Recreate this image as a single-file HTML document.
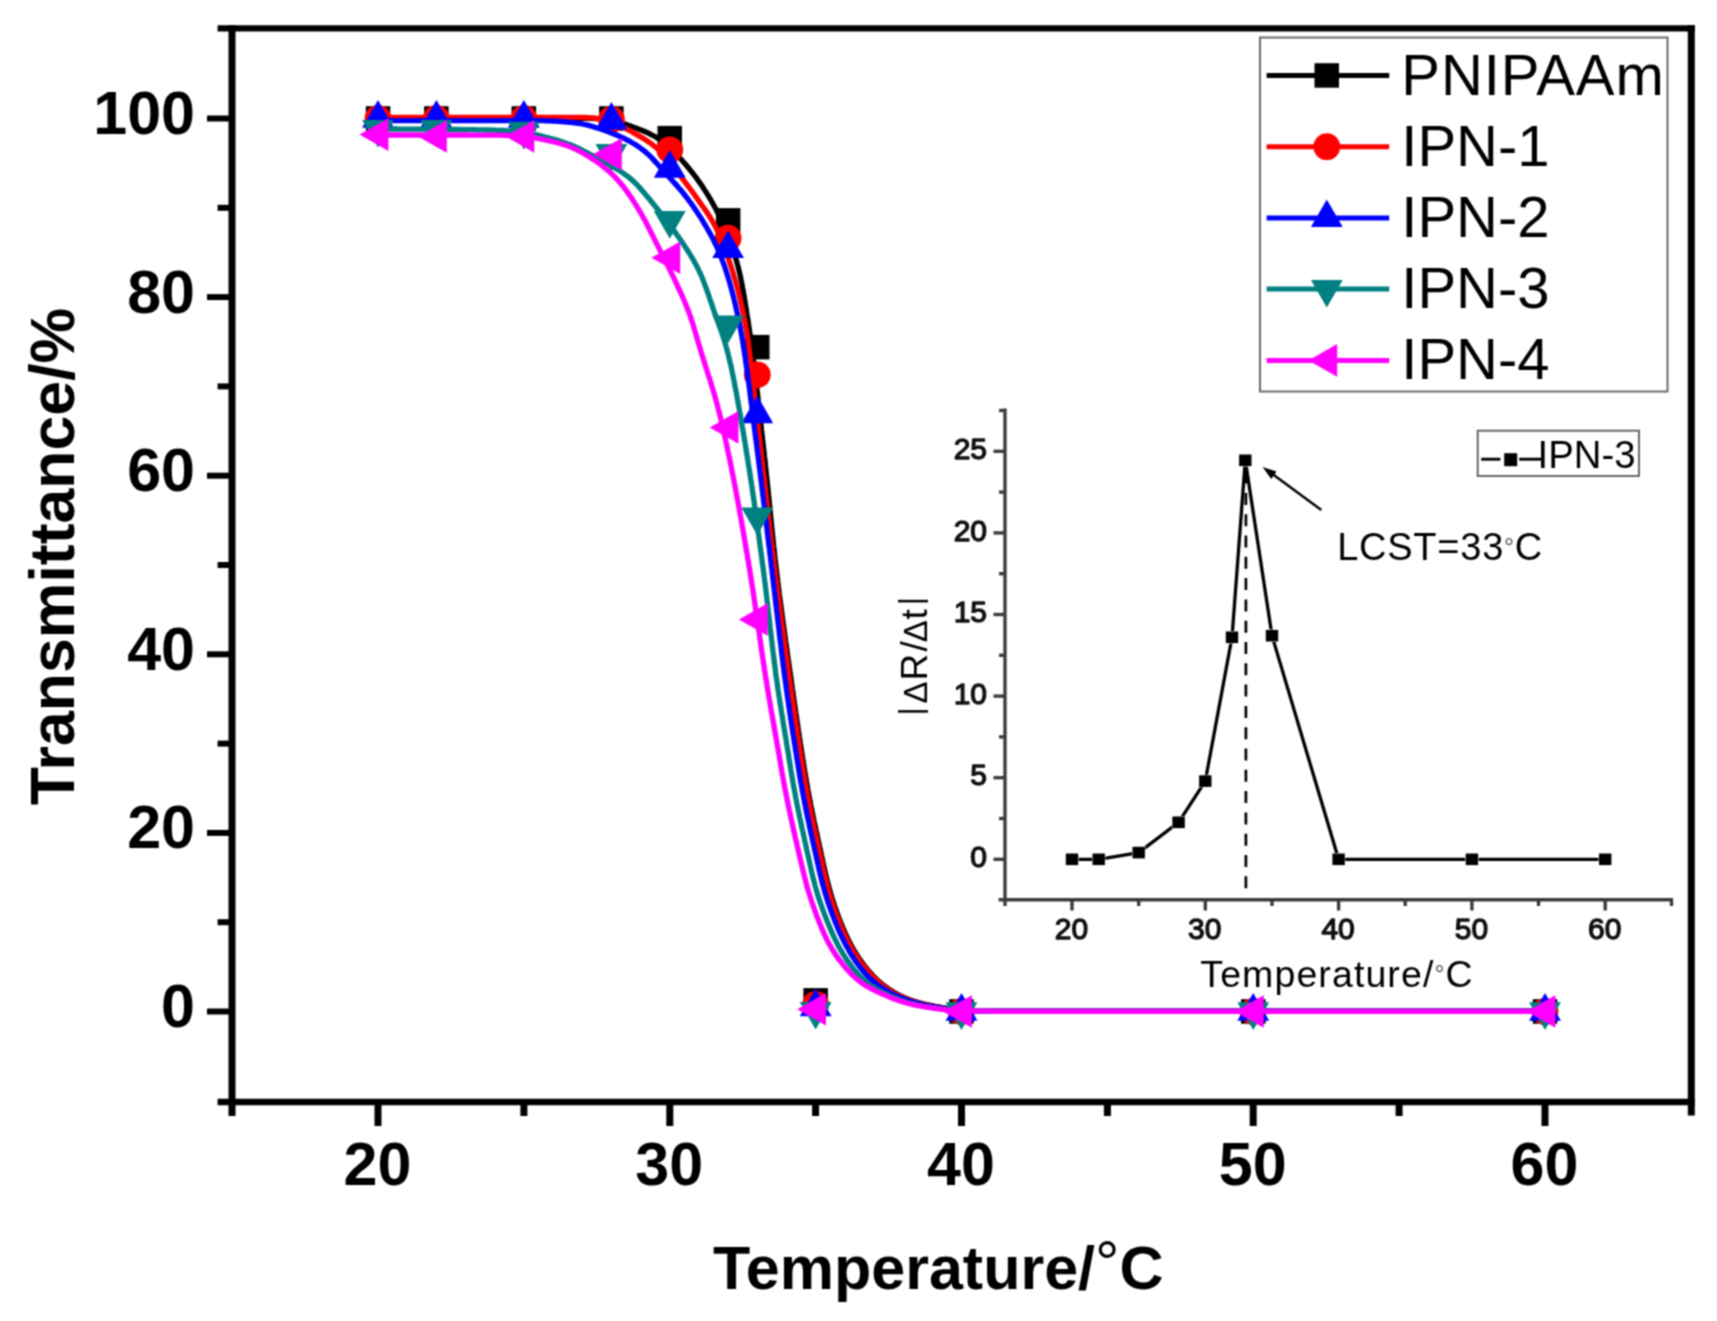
<!DOCTYPE html>
<html lang="en"><head><meta charset="utf-8"><title>Transmittance vs Temperature</title>
<style>html,body{margin:0;padding:0;background:#fff}svg{display:block}</style></head>
<body>
<svg width="1717" height="1321" viewBox="0 0 1717 1321" font-family="'Liberation Sans', sans-serif">
<defs><filter id="soft" color-interpolation-filters="sRGB" filterUnits="userSpaceOnUse" x="0" y="0" width="1717" height="1321"><feConvolveMatrix order="3" kernelMatrix="1 2 1 2 4 2 1 2 1" divisor="16" edgeMode="duplicate" preserveAlpha="false"/></filter></defs>
<g filter="url(#soft)">
<rect width="1717" height="1321" fill="#fff"/>
<g>
<path d="M378.0,118.3 L382.2,118.3 L384.5,118.3 L387.2,118.3 L390.0,118.3 L393.0,118.3 L396.0,118.3 L399.0,118.3 L402.0,118.3 L405.0,118.3 L408.0,118.3 L411.0,118.3 L414.0,118.3 L417.0,118.3 L420.0,118.3 L423.0,118.3 L426.0,118.3 L429.0,118.3 L432.0,118.3 L435.0,118.3 L438.0,118.3 L441.0,118.3 L444.0,118.3 L447.0,118.3 L450.0,118.3 L453.0,118.3 L456.0,118.3 L459.0,118.3 L462.0,118.3 L465.0,118.3 L468.0,118.3 L471.0,118.3 L474.0,118.3 L477.0,118.3 L480.0,118.3 L483.0,118.3 L486.0,118.3 L489.0,118.3 L492.0,118.3 L495.0,118.3 L498.0,118.3 L501.0,118.3 L504.0,118.3 L507.0,118.3 L510.0,118.3 L513.0,118.3 L516.0,118.3 L519.0,118.3 L522.0,118.3 L525.0,118.3 L528.0,118.3 L531.0,118.3 L534.0,118.3 L537.0,118.3 L540.0,118.3 L543.0,118.3 L546.0,118.3 L549.0,118.3 L552.0,118.3 L555.0,118.3 L558.0,118.3 L561.0,118.3 L564.0,118.3 L567.0,118.3 L570.0,118.3 L573.0,118.3 L576.0,118.3 L579.0,118.3 L582.0,118.3 L585.0,118.3 L588.0,118.3 L591.0,118.4 L594.0,118.5 L597.0,118.6 L600.0,118.8 L603.0,119.1 L605.9,119.4 L608.9,119.8 L611.9,120.3 L614.8,120.9 L617.7,121.7 L620.5,122.6 L623.4,123.5 L626.2,124.5 L629.0,125.5 L631.8,126.5 L634.6,127.6 L637.5,128.6 L640.3,129.7 L643.0,130.8 L645.8,132.0 L648.5,133.2 L651.2,134.6 L653.9,136.0 L656.4,137.4 L659.0,139.0 L661.4,140.7 L663.8,142.5 L666.1,144.4 L668.4,146.4 L670.6,148.4 L672.7,150.5 L674.8,152.7 L676.9,154.8 L679.0,157.0 L681.0,159.2 L683.0,161.5 L685.0,163.7 L686.9,166.0 L688.8,168.3 L690.7,170.6 L692.6,173.0 L694.4,175.3 L696.2,177.7 L698.0,180.2 L699.7,182.6 L701.4,185.1 L703.1,187.6 L704.7,190.1 L706.3,192.6 L707.9,195.2 L709.5,197.7 L711.0,200.3 L712.5,202.9 L713.9,205.6 L715.4,208.2 L716.8,210.8 L718.1,213.5 L719.5,216.2 L720.8,218.9 L722.1,221.6 L723.3,224.3 L724.5,227.1 L725.7,229.8 L726.9,232.6 L728.0,235.4 L729.0,238.2 L730.1,241.0 L731.1,243.8 L732.1,246.7 L733.0,249.5 L733.9,252.4 L734.8,255.2 L735.7,258.1 L736.5,261.0 L737.3,263.9 L738.1,266.8 L738.8,269.7 L739.5,272.6 L740.2,275.5 L740.8,278.4 L741.4,281.4 L742.0,284.3 L742.5,287.3 L743.1,290.2 L743.6,293.2 L744.1,296.1 L744.6,299.1 L745.1,302.1 L745.5,305.0 L746.0,308.0 L746.5,310.9 L746.9,313.9 L747.4,316.9 L747.9,319.8 L748.3,322.8 L748.8,325.8 L749.2,328.7 L749.6,331.7 L750.1,334.7 L750.5,337.6 L750.9,340.6 L751.3,343.6 L751.7,346.6 L752.1,349.5 L752.5,352.5 L752.9,355.5 L753.2,358.5 L753.6,361.4 L754.0,364.4 L754.4,367.4 L754.7,370.4 L755.1,373.4 L755.4,376.3 L755.8,379.3 L756.1,382.3 L756.5,385.3 L756.8,388.2 L757.2,391.2 L757.5,394.2 L757.9,397.2 L758.2,400.2 L758.5,403.2 L758.9,406.1 L759.2,409.1 L759.5,412.1 L759.9,415.1 L760.2,418.1 L760.5,421.0 L760.9,424.0 L761.2,427.0 L761.5,430.0 L761.9,433.0 L762.2,435.9 L762.5,438.9 L762.9,441.9 L763.2,444.9 L763.5,447.9 L763.9,450.9 L764.2,453.8 L764.5,456.8 L764.9,459.8 L765.2,462.8 L765.5,465.8 L765.8,468.7 L766.1,471.7 L766.4,474.7 L766.7,477.7 L767.1,480.7 L767.4,483.7 L767.7,486.7 L768.0,489.6 L768.3,492.6 L768.6,495.6 L768.9,498.6 L769.2,501.6 L769.5,504.6 L769.8,507.5 L770.1,510.5 L770.4,513.5 L770.7,516.5 L771.0,519.5 L771.3,522.5 L771.6,525.5 L771.9,528.4 L772.2,531.4 L772.5,534.4 L772.8,537.4 L773.1,540.4 L773.4,543.4 L773.7,546.3 L774.1,549.3 L774.4,552.3 L774.7,555.3 L775.0,558.3 L775.4,561.3 L775.7,564.2 L776.0,567.2 L776.4,570.2 L776.8,573.2 L777.1,576.2 L777.5,579.1 L777.8,582.1 L778.2,585.1 L778.6,588.1 L779.0,591.0 L779.3,594.0 L779.7,597.0 L780.1,600.0 L780.5,602.9 L780.9,605.9 L781.3,608.9 L781.7,611.9 L782.1,614.8 L782.5,617.8 L782.9,620.8 L783.3,623.8 L783.7,626.7 L784.1,629.7 L784.5,632.7 L784.9,635.6 L785.3,638.6 L785.7,641.6 L786.2,644.6 L786.6,647.5 L787.0,650.5 L787.4,653.5 L787.8,656.4 L788.2,659.4 L788.7,662.4 L789.1,665.4 L789.5,668.3 L789.9,671.3 L790.3,674.3 L790.8,677.2 L791.2,680.2 L791.6,683.2 L792.0,686.1 L792.4,689.1 L792.9,692.1 L793.3,695.1 L793.7,698.0 L794.1,701.0 L794.5,704.0 L795.0,706.9 L795.4,709.9 L795.8,712.9 L796.3,715.8 L796.7,718.8 L797.1,721.8 L797.6,724.8 L798.0,727.7 L798.4,730.7 L798.9,733.7 L799.3,736.6 L799.8,739.6 L800.2,742.6 L800.7,745.5 L801.1,748.5 L801.6,751.4 L802.1,754.4 L802.5,757.4 L803.0,760.3 L803.5,763.3 L803.9,766.3 L804.4,769.2 L804.9,772.2 L805.4,775.1 L805.9,778.1 L806.4,781.1 L806.9,784.0 L807.4,787.0 L807.9,789.9 L808.5,792.9 L809.0,795.8 L809.6,798.8 L810.2,801.7 L810.7,804.7 L811.3,807.6 L811.9,810.5 L812.5,813.5 L813.1,816.4 L813.7,819.4 L814.3,822.3 L815.0,825.2 L815.6,828.2 L816.2,831.1 L816.9,834.0 L817.5,837.0 L818.1,839.9 L818.8,842.8 L819.4,845.8 L820.1,848.7 L820.7,851.6 L821.3,854.5 L822.0,857.5 L822.6,860.4 L823.2,863.3 L823.9,866.3 L824.5,869.2 L825.2,872.1 L825.9,875.0 L826.6,878.0 L827.3,880.9 L828.0,883.8 L828.8,886.7 L829.6,889.6 L830.4,892.5 L831.2,895.4 L832.1,898.2 L833.0,901.1 L833.9,903.9 L834.9,906.8 L835.9,909.6 L836.9,912.4 L837.9,915.3 L839.0,918.1 L840.0,920.9 L841.2,923.6 L842.3,926.4 L843.5,929.2 L844.7,931.9 L845.9,934.7 L847.2,937.4 L848.5,940.1 L849.9,942.7 L851.3,945.4 L852.7,948.0 L854.2,950.6 L855.8,953.2 L857.4,955.7 L859.0,958.2 L860.7,960.7 L862.5,963.1 L864.3,965.5 L866.1,967.9 L868.0,970.2 L870.0,972.4 L872.0,974.6 L874.1,976.8 L876.2,978.9 L878.4,980.9 L880.7,982.9 L883.0,984.8 L885.4,986.6 L887.8,988.4 L890.3,990.0 L892.8,991.6 L895.4,993.1 L898.0,994.5 L900.7,995.9 L903.5,997.1 L906.2,998.3 L909.0,999.4 L911.8,1000.4 L914.7,1001.4 L917.5,1002.2 L920.4,1003.1 L923.3,1003.8 L926.2,1004.5 L929.2,1005.1 L932.1,1005.7 L935.0,1006.3 L938.0,1006.8 L941.0,1007.3 L943.9,1007.8 L946.9,1008.3 L949.8,1008.8 L952.8,1009.3 L955.8,1009.7 L958.7,1010.0 L961.7,1010.2 L964.7,1010.4 L967.7,1010.6 L970.7,1010.7 L973.7,1010.8 L976.7,1010.8 L979.7,1010.9 L982.7,1010.9 L985.7,1011.0 L988.7,1011.0 L991.7,1011.1 L994.7,1011.1 L997.7,1011.1 L1000.7,1011.1 L1003.7,1011.1 L1006.7,1011.1 L1009.7,1011.1 L1012.7,1011.1 L1015.7,1011.1 L1018.7,1011.1 L1021.7,1011.1 L1024.7,1011.1 L1027.7,1011.1 L1030.7,1011.1 L1033.7,1011.1 L1036.7,1011.1 L1039.7,1011.1 L1042.7,1011.1 L1045.7,1011.1 L1048.7,1011.1 L1051.7,1011.1 L1054.7,1011.1 L1057.7,1011.1 L1060.7,1011.1 L1063.7,1011.1 L1066.7,1011.1 L1069.7,1011.1 L1072.7,1011.1 L1075.7,1011.1 L1078.7,1011.1 L1081.7,1011.1 L1084.7,1011.1 L1087.7,1011.1 L1090.7,1011.1 L1093.7,1011.1 L1096.7,1011.1 L1099.7,1011.1 L1102.7,1011.1 L1105.7,1011.1 L1108.7,1011.1 L1111.7,1011.1 L1114.7,1011.1 L1117.7,1011.1 L1120.7,1011.1 L1123.7,1011.1 L1126.7,1011.1 L1129.7,1011.1 L1132.7,1011.1 L1135.7,1011.1 L1138.7,1011.1 L1141.7,1011.1 L1144.7,1011.1 L1147.7,1011.1 L1150.7,1011.1 L1153.7,1011.1 L1156.7,1011.1 L1159.7,1011.1 L1162.7,1011.1 L1165.7,1011.1 L1168.7,1011.1 L1171.7,1011.1 L1174.7,1011.1 L1177.7,1011.1 L1180.7,1011.1 L1183.7,1011.1 L1186.7,1011.1 L1189.7,1011.1 L1192.7,1011.1 L1195.7,1011.1 L1198.7,1011.1 L1201.7,1011.1 L1204.7,1011.1 L1207.7,1011.1 L1210.7,1011.1 L1213.7,1011.1 L1216.7,1011.1 L1219.7,1011.1 L1222.7,1011.1 L1225.7,1011.1 L1228.7,1011.1 L1231.7,1011.1 L1234.7,1011.1 L1237.7,1011.1 L1240.7,1011.1 L1243.7,1011.1 L1246.7,1011.1 L1249.7,1011.1 L1252.7,1011.1 L1255.7,1011.1 L1258.7,1011.1 L1261.7,1011.1 L1264.7,1011.1 L1267.7,1011.1 L1270.7,1011.1 L1273.7,1011.1 L1276.7,1011.1 L1279.7,1011.1 L1282.7,1011.1 L1285.7,1011.1 L1288.7,1011.1 L1291.7,1011.1 L1294.7,1011.1 L1297.7,1011.1 L1300.7,1011.1 L1303.7,1011.1 L1306.7,1011.1 L1309.7,1011.1 L1312.7,1011.1 L1315.7,1011.1 L1318.7,1011.1 L1321.7,1011.1 L1324.7,1011.1 L1327.7,1011.1 L1330.7,1011.1 L1333.7,1011.1 L1336.7,1011.1 L1339.7,1011.1 L1342.7,1011.1 L1345.7,1011.1 L1348.7,1011.1 L1351.7,1011.1 L1354.7,1011.1 L1357.7,1011.1 L1360.7,1011.1 L1363.7,1011.1 L1366.7,1011.1 L1369.7,1011.1 L1372.7,1011.1 L1375.7,1011.1 L1378.7,1011.1 L1381.7,1011.1 L1384.7,1011.1 L1387.7,1011.1 L1390.7,1011.1 L1393.7,1011.1 L1396.7,1011.1 L1399.7,1011.1 L1402.7,1011.1 L1405.7,1011.1 L1408.7,1011.1 L1411.7,1011.1 L1414.7,1011.1 L1417.7,1011.1 L1420.7,1011.1 L1423.7,1011.1 L1426.7,1011.1 L1429.7,1011.1 L1432.7,1011.1 L1435.7,1011.1 L1438.7,1011.1 L1441.7,1011.1 L1444.7,1011.1 L1447.7,1011.1 L1450.7,1011.1 L1453.7,1011.1 L1456.7,1011.1 L1459.7,1011.1 L1462.7,1011.1 L1465.7,1011.1 L1468.7,1011.1 L1471.7,1011.1 L1474.7,1011.1 L1477.7,1011.1 L1480.7,1011.1 L1483.7,1011.1 L1486.7,1011.1 L1489.7,1011.1 L1492.7,1011.1 L1495.7,1011.1 L1498.7,1011.1 L1501.7,1011.1 L1504.7,1011.1 L1507.7,1011.1 L1510.7,1011.1 L1513.7,1011.1 L1516.7,1011.1 L1519.7,1011.1 L1522.7,1011.1 L1525.7,1011.1 L1528.7,1011.1 L1531.7,1011.1 L1534.6,1011.1 L1537.3,1011.1 L1539.8,1011.1 L1541.8,1011.1 L1545.0,1011.1" fill="none" stroke="#000" stroke-width="5.3" stroke-linejoin="round"/>
<rect x="365.8" y="106.2" width="24.5" height="24.5" fill="#000"/>
<rect x="424.1" y="106.2" width="24.5" height="24.5" fill="#000"/>
<rect x="511.6" y="106.2" width="24.5" height="24.5" fill="#000"/>
<rect x="599.1" y="106.2" width="24.5" height="24.5" fill="#000"/>
<rect x="657.5" y="125.9" width="24.5" height="24.5" fill="#000"/>
<rect x="715.9" y="208.1" width="24.5" height="24.5" fill="#000"/>
<rect x="745.0" y="334.9" width="24.5" height="24.5" fill="#000"/>
<rect x="803.4" y="988.1" width="24.5" height="24.5" fill="#000"/>
<rect x="949.2" y="999.2" width="24.5" height="24.5" fill="#000"/>
<rect x="1241.0" y="999.2" width="24.5" height="24.5" fill="#000"/>
<rect x="1532.8" y="999.2" width="24.5" height="24.5" fill="#000"/>
</g>
<g>
<path d="M378.0,117.3 L382.2,117.3 L384.5,117.3 L387.2,117.3 L390.0,117.3 L393.0,117.3 L396.0,117.3 L399.0,117.3 L402.0,117.3 L405.0,117.3 L408.0,117.3 L411.0,117.3 L414.0,117.3 L417.0,117.3 L420.0,117.3 L423.0,117.3 L426.0,117.3 L429.0,117.3 L432.0,117.3 L435.0,117.3 L438.0,117.3 L441.0,117.3 L444.0,117.3 L447.0,117.3 L450.0,117.3 L453.0,117.3 L456.0,117.3 L459.0,117.3 L462.0,117.3 L465.0,117.3 L468.0,117.3 L471.0,117.3 L474.0,117.3 L477.0,117.3 L480.0,117.3 L483.0,117.3 L486.0,117.3 L489.0,117.3 L492.0,117.3 L495.0,117.3 L498.0,117.3 L501.0,117.3 L504.0,117.3 L507.0,117.3 L510.0,117.3 L513.0,117.3 L516.0,117.3 L519.0,117.3 L522.0,117.3 L525.0,117.3 L528.0,117.3 L531.0,117.3 L534.0,117.3 L537.0,117.3 L540.0,117.3 L543.0,117.3 L546.0,117.3 L549.0,117.3 L552.0,117.3 L555.0,117.3 L558.0,117.3 L561.0,117.3 L564.0,117.3 L567.0,117.3 L570.0,117.3 L573.0,117.3 L576.0,117.3 L579.0,117.4 L582.0,117.4 L585.0,117.5 L588.0,117.7 L591.0,117.9 L594.0,118.2 L596.9,118.5 L599.9,118.9 L602.9,119.4 L605.8,120.1 L608.6,120.8 L611.5,121.8 L614.2,122.9 L616.9,124.1 L619.6,125.5 L622.3,126.8 L625.0,128.2 L627.6,129.6 L630.3,131.0 L632.9,132.4 L635.5,133.9 L638.1,135.4 L640.7,136.9 L643.3,138.4 L645.8,140.0 L648.3,141.7 L650.8,143.4 L653.2,145.2 L655.5,147.1 L657.8,149.0 L660.0,151.1 L662.1,153.2 L664.1,155.4 L666.1,157.6 L668.0,159.9 L669.9,162.2 L671.8,164.6 L673.6,166.9 L675.5,169.3 L677.3,171.7 L679.1,174.1 L680.9,176.5 L682.7,178.9 L684.5,181.3 L686.3,183.7 L688.1,186.1 L689.9,188.5 L691.7,190.9 L693.5,193.3 L695.2,195.8 L696.9,198.2 L698.7,200.7 L700.4,203.1 L702.1,205.6 L703.9,208.0 L705.6,210.5 L707.3,212.9 L708.9,215.5 L710.5,218.0 L712.0,220.6 L713.5,223.2 L714.9,225.8 L716.3,228.5 L717.6,231.2 L718.8,233.9 L720.0,236.7 L721.2,239.4 L722.3,242.2 L723.4,245.0 L724.5,247.8 L725.5,250.6 L726.6,253.4 L727.6,256.3 L728.6,259.1 L729.5,261.9 L730.5,264.8 L731.4,267.6 L732.3,270.5 L733.2,273.4 L734.0,276.2 L734.9,279.1 L735.7,282.0 L736.5,284.9 L737.3,287.8 L738.0,290.7 L738.8,293.6 L739.5,296.5 L740.2,299.4 L740.8,302.4 L741.5,305.3 L742.1,308.2 L742.8,311.2 L743.4,314.1 L743.9,317.0 L744.5,320.0 L745.1,322.9 L745.6,325.9 L746.1,328.8 L746.6,331.8 L747.1,334.8 L747.6,337.7 L748.0,340.7 L748.4,343.7 L748.8,346.6 L749.2,349.6 L749.6,352.6 L750.0,355.5 L750.4,358.5 L750.8,361.5 L751.1,364.5 L751.5,367.5 L751.8,370.4 L752.2,373.4 L752.5,376.4 L752.9,379.4 L753.2,382.4 L753.6,385.3 L753.9,388.3 L754.2,391.3 L754.5,394.3 L754.9,397.3 L755.2,400.2 L755.5,403.2 L755.9,406.2 L756.2,409.2 L756.5,412.2 L756.8,415.2 L757.2,418.1 L757.5,421.1 L757.8,424.1 L758.2,427.1 L758.5,430.1 L758.8,433.0 L759.2,436.0 L759.5,439.0 L759.8,442.0 L760.2,445.0 L760.5,447.9 L760.9,450.9 L761.2,453.9 L761.6,456.9 L761.9,459.9 L762.3,462.8 L762.6,465.8 L763.0,468.8 L763.3,471.8 L763.7,474.8 L764.0,477.7 L764.4,480.7 L764.7,483.7 L765.1,486.7 L765.4,489.7 L765.7,492.6 L766.1,495.6 L766.4,498.6 L766.8,501.6 L767.1,504.6 L767.5,507.5 L767.8,510.5 L768.1,513.5 L768.5,516.5 L768.8,519.5 L769.2,522.4 L769.5,525.4 L769.9,528.4 L770.2,531.4 L770.6,534.4 L770.9,537.3 L771.3,540.3 L771.6,543.3 L772.0,546.3 L772.3,549.3 L772.7,552.2 L773.1,555.2 L773.4,558.2 L773.8,561.2 L774.2,564.2 L774.5,567.1 L774.9,570.1 L775.3,573.1 L775.6,576.1 L776.0,579.0 L776.4,582.0 L776.8,585.0 L777.2,588.0 L777.6,590.9 L777.9,593.9 L778.3,596.9 L778.7,599.9 L779.1,602.8 L779.5,605.8 L779.9,608.8 L780.3,611.8 L780.7,614.7 L781.1,617.7 L781.5,620.7 L781.9,623.7 L782.3,626.6 L782.7,629.6 L783.1,632.6 L783.5,635.5 L783.9,638.5 L784.3,641.5 L784.7,644.5 L785.1,647.4 L785.5,650.4 L785.9,653.4 L786.3,656.3 L786.8,659.3 L787.2,662.3 L787.6,665.3 L788.0,668.2 L788.4,671.2 L788.8,674.2 L789.3,677.1 L789.7,680.1 L790.1,683.1 L790.5,686.1 L790.9,689.0 L791.4,692.0 L791.8,695.0 L792.2,697.9 L792.6,700.9 L793.1,703.9 L793.5,706.8 L793.9,709.8 L794.4,712.8 L794.8,715.8 L795.2,718.7 L795.7,721.7 L796.1,724.7 L796.6,727.6 L797.0,730.6 L797.4,733.6 L797.9,736.5 L798.4,739.5 L798.8,742.5 L799.3,745.4 L799.7,748.4 L800.2,751.3 L800.7,754.3 L801.1,757.3 L801.6,760.2 L802.1,763.2 L802.5,766.2 L803.0,769.1 L803.5,772.1 L804.0,775.0 L804.5,778.0 L805.0,781.0 L805.5,783.9 L806.0,786.9 L806.5,789.8 L807.1,792.8 L807.6,795.7 L808.2,798.7 L808.7,801.6 L809.3,804.6 L809.9,807.5 L810.5,810.4 L811.1,813.4 L811.7,816.3 L812.3,819.3 L813.0,822.2 L813.6,825.1 L814.2,828.1 L814.9,831.0 L815.5,833.9 L816.2,836.8 L816.8,839.8 L817.4,842.7 L818.1,845.6 L818.7,848.6 L819.4,851.5 L820.0,854.4 L820.6,857.4 L821.3,860.3 L821.9,863.2 L822.6,866.2 L823.2,869.1 L823.9,872.0 L824.6,874.9 L825.2,877.8 L826.0,880.8 L826.7,883.7 L827.4,886.6 L828.2,889.5 L829.0,892.4 L829.9,895.2 L830.7,898.1 L831.6,901.0 L832.6,903.8 L833.5,906.7 L834.5,909.5 L835.5,912.3 L836.6,915.1 L837.6,917.9 L838.7,920.7 L839.8,923.5 L841.0,926.3 L842.1,929.1 L843.3,931.8 L844.6,934.5 L845.8,937.3 L847.2,939.9 L848.5,942.6 L849.9,945.3 L851.4,947.9 L852.9,950.5 L854.4,953.0 L856.0,955.6 L857.7,958.1 L859.4,960.5 L861.1,963.0 L863.0,965.4 L864.8,967.7 L866.7,970.0 L868.7,972.3 L870.7,974.5 L872.8,976.7 L874.9,978.8 L877.1,980.8 L879.3,982.8 L881.7,984.7 L884.0,986.5 L886.5,988.3 L888.9,990.0 L891.5,991.5 L894.1,993.1 L896.7,994.5 L899.4,995.8 L902.1,997.0 L904.9,998.2 L907.6,999.3 L910.5,1000.3 L913.3,1001.3 L916.2,1002.2 L919.0,1003.0 L921.9,1003.8 L924.9,1004.5 L927.8,1005.1 L930.7,1005.7 L933.7,1006.2 L936.6,1006.8 L939.6,1007.3 L942.5,1007.8 L945.5,1008.3 L948.4,1008.8 L951.4,1009.2 L954.4,1009.6 L957.4,1010.0 L960.3,1010.2 L963.3,1010.4 L966.3,1010.6 L969.3,1010.7 L972.3,1010.7 L975.3,1010.8 L978.3,1010.9 L981.3,1010.9 L984.3,1011.0 L987.3,1011.0 L990.3,1011.0 L993.3,1011.1 L996.3,1011.1 L999.3,1011.1 L1002.3,1011.1 L1005.3,1011.1 L1008.3,1011.1 L1011.3,1011.1 L1014.3,1011.1 L1017.3,1011.1 L1020.3,1011.1 L1023.3,1011.1 L1026.3,1011.1 L1029.3,1011.1 L1032.3,1011.1 L1035.3,1011.1 L1038.3,1011.1 L1041.3,1011.1 L1044.3,1011.1 L1047.3,1011.1 L1050.3,1011.1 L1053.3,1011.1 L1056.3,1011.1 L1059.3,1011.1 L1062.3,1011.1 L1065.3,1011.1 L1068.3,1011.1 L1071.3,1011.1 L1074.3,1011.1 L1077.3,1011.1 L1080.3,1011.1 L1083.3,1011.1 L1086.3,1011.1 L1089.3,1011.1 L1092.3,1011.1 L1095.3,1011.1 L1098.3,1011.1 L1101.3,1011.1 L1104.3,1011.1 L1107.3,1011.1 L1110.3,1011.1 L1113.3,1011.1 L1116.3,1011.1 L1119.3,1011.1 L1122.3,1011.1 L1125.3,1011.1 L1128.3,1011.1 L1131.3,1011.1 L1134.3,1011.1 L1137.3,1011.1 L1140.3,1011.1 L1143.3,1011.1 L1146.3,1011.1 L1149.3,1011.1 L1152.3,1011.1 L1155.3,1011.1 L1158.3,1011.1 L1161.3,1011.1 L1164.3,1011.1 L1167.3,1011.1 L1170.3,1011.1 L1173.3,1011.1 L1176.3,1011.1 L1179.3,1011.1 L1182.3,1011.1 L1185.3,1011.1 L1188.3,1011.1 L1191.3,1011.1 L1194.3,1011.1 L1197.3,1011.1 L1200.3,1011.1 L1203.3,1011.1 L1206.3,1011.1 L1209.3,1011.1 L1212.3,1011.1 L1215.3,1011.1 L1218.3,1011.1 L1221.3,1011.1 L1224.3,1011.1 L1227.3,1011.1 L1230.3,1011.1 L1233.3,1011.1 L1236.3,1011.1 L1239.3,1011.1 L1242.3,1011.1 L1245.3,1011.1 L1248.3,1011.1 L1251.3,1011.1 L1254.3,1011.1 L1257.3,1011.1 L1260.3,1011.1 L1263.3,1011.1 L1266.3,1011.1 L1269.3,1011.1 L1272.3,1011.1 L1275.3,1011.1 L1278.3,1011.1 L1281.3,1011.1 L1284.3,1011.1 L1287.3,1011.1 L1290.3,1011.1 L1293.3,1011.1 L1296.3,1011.1 L1299.3,1011.1 L1302.3,1011.1 L1305.3,1011.1 L1308.3,1011.1 L1311.3,1011.1 L1314.3,1011.1 L1317.3,1011.1 L1320.3,1011.1 L1323.3,1011.1 L1326.3,1011.1 L1329.3,1011.1 L1332.3,1011.1 L1335.3,1011.1 L1338.3,1011.1 L1341.3,1011.1 L1344.3,1011.1 L1347.3,1011.1 L1350.3,1011.1 L1353.3,1011.1 L1356.3,1011.1 L1359.3,1011.1 L1362.3,1011.1 L1365.3,1011.1 L1368.3,1011.1 L1371.3,1011.1 L1374.3,1011.1 L1377.3,1011.1 L1380.3,1011.1 L1383.3,1011.1 L1386.3,1011.1 L1389.3,1011.1 L1392.3,1011.1 L1395.3,1011.1 L1398.3,1011.1 L1401.3,1011.1 L1404.3,1011.1 L1407.3,1011.1 L1410.3,1011.1 L1413.3,1011.1 L1416.3,1011.1 L1419.3,1011.1 L1422.3,1011.1 L1425.3,1011.1 L1428.3,1011.1 L1431.3,1011.1 L1434.3,1011.1 L1437.3,1011.1 L1440.3,1011.1 L1443.3,1011.1 L1446.3,1011.1 L1449.3,1011.1 L1452.3,1011.1 L1455.3,1011.1 L1458.3,1011.1 L1461.3,1011.1 L1464.3,1011.1 L1467.3,1011.1 L1470.3,1011.1 L1473.3,1011.1 L1476.3,1011.1 L1479.3,1011.1 L1482.3,1011.1 L1485.3,1011.1 L1488.3,1011.1 L1491.3,1011.1 L1494.3,1011.1 L1497.3,1011.1 L1500.3,1011.1 L1503.3,1011.1 L1506.3,1011.1 L1509.3,1011.1 L1512.3,1011.1 L1515.3,1011.1 L1518.3,1011.1 L1521.3,1011.1 L1524.3,1011.1 L1527.3,1011.1 L1530.3,1011.1 L1533.2,1011.1 L1536.1,1011.1 L1538.6,1011.1 L1540.8,1011.1 L1545.0,1011.1" fill="none" stroke="#f00" stroke-width="5.3" stroke-linejoin="round"/>
<circle cx="378.0" cy="118.5" r="13.4" fill="#f00"/>
<circle cx="436.4" cy="118.5" r="13.4" fill="#f00"/>
<circle cx="523.9" cy="118.5" r="13.4" fill="#f00"/>
<circle cx="611.4" cy="119.4" r="13.4" fill="#f00"/>
<circle cx="669.8" cy="149.8" r="13.4" fill="#f00"/>
<circle cx="728.1" cy="238.2" r="13.4" fill="#f00"/>
<circle cx="757.3" cy="374.8" r="13.4" fill="#f00"/>
<circle cx="815.6" cy="1004.4" r="13.4" fill="#f00"/>
<circle cx="961.5" cy="1011.5" r="13.4" fill="#f00"/>
<circle cx="1253.2" cy="1011.5" r="13.4" fill="#f00"/>
<circle cx="1545.0" cy="1011.5" r="13.4" fill="#f00"/>
</g>
<g>
<path d="M378.0,120.7 L382.2,120.7 L384.5,120.7 L387.2,120.7 L390.0,120.7 L393.0,120.7 L396.0,120.7 L399.0,120.7 L402.0,120.7 L405.0,120.7 L408.0,120.7 L411.0,120.7 L414.0,120.7 L417.0,120.7 L420.0,120.7 L423.0,120.7 L426.0,120.7 L429.0,120.7 L432.0,120.7 L435.0,120.7 L438.0,120.7 L441.0,120.7 L444.0,120.7 L447.0,120.7 L450.0,120.7 L453.0,120.7 L456.0,120.7 L459.0,120.7 L462.0,120.7 L465.0,120.7 L468.0,120.7 L471.0,120.7 L474.0,120.7 L477.0,120.7 L480.0,120.7 L483.0,120.7 L486.0,120.7 L489.0,120.7 L492.0,120.7 L495.0,120.7 L498.0,120.7 L501.0,120.7 L504.0,120.7 L507.0,120.7 L510.0,120.7 L513.0,120.7 L516.0,120.7 L519.0,120.7 L522.0,120.7 L525.0,120.7 L528.0,120.7 L531.0,120.7 L534.0,120.7 L537.0,120.7 L540.0,120.7 L543.0,120.7 L546.0,120.8 L549.0,120.9 L552.0,121.0 L555.0,121.1 L558.0,121.3 L561.0,121.5 L564.0,121.8 L567.0,122.0 L569.9,122.3 L572.9,122.6 L575.9,123.0 L578.9,123.4 L581.8,123.9 L584.8,124.5 L587.7,125.2 L590.6,125.9 L593.4,126.8 L596.3,127.7 L599.1,128.6 L602.0,129.6 L604.8,130.6 L607.6,131.6 L610.4,132.6 L613.2,133.7 L616.0,134.8 L618.8,136.0 L621.5,137.2 L624.2,138.5 L626.9,139.8 L629.6,141.2 L632.2,142.7 L634.8,144.2 L637.3,145.8 L639.7,147.5 L642.1,149.3 L644.5,151.2 L646.8,153.1 L649.0,155.1 L651.1,157.2 L653.2,159.4 L655.2,161.6 L657.2,163.8 L659.2,166.1 L661.2,168.4 L663.1,170.6 L665.1,172.8 L667.2,175.1 L669.2,177.3 L671.2,179.5 L673.3,181.7 L675.3,183.9 L677.3,186.1 L679.3,188.4 L681.2,190.6 L683.1,193.0 L685.0,195.3 L686.8,197.7 L688.6,200.1 L690.4,202.5 L692.2,204.9 L693.9,207.4 L695.6,209.9 L697.2,212.4 L698.9,214.9 L700.5,217.4 L702.1,219.9 L703.6,222.5 L705.2,225.1 L706.7,227.6 L708.2,230.2 L709.7,232.9 L711.1,235.5 L712.5,238.1 L713.9,240.8 L715.2,243.5 L716.5,246.2 L717.7,249.0 L718.9,251.7 L720.1,254.5 L721.2,257.3 L722.2,260.1 L723.3,262.9 L724.3,265.7 L725.3,268.5 L726.2,271.4 L727.1,274.2 L728.0,277.1 L728.9,280.0 L729.7,282.9 L730.5,285.7 L731.3,288.6 L732.1,291.5 L732.8,294.4 L733.6,297.3 L734.3,300.3 L735.0,303.2 L735.7,306.1 L736.3,309.0 L737.0,311.9 L737.6,314.9 L738.3,317.8 L738.9,320.8 L739.5,323.7 L740.0,326.6 L740.6,329.6 L741.1,332.5 L741.7,335.5 L742.2,338.4 L742.7,341.4 L743.2,344.4 L743.6,347.3 L744.1,350.3 L744.5,353.3 L745.0,356.2 L745.4,359.2 L745.8,362.2 L746.3,365.1 L746.7,368.1 L747.1,371.1 L747.5,374.0 L747.9,377.0 L748.3,380.0 L748.7,383.0 L749.1,385.9 L749.5,388.9 L749.9,391.9 L750.2,394.9 L750.6,397.8 L751.0,400.8 L751.4,403.8 L751.8,406.8 L752.1,409.7 L752.5,412.7 L752.9,415.7 L753.3,418.7 L753.6,421.7 L754.0,424.6 L754.4,427.6 L754.8,430.6 L755.1,433.6 L755.5,436.5 L755.9,439.5 L756.3,442.5 L756.7,445.5 L757.0,448.4 L757.4,451.4 L757.8,454.4 L758.2,457.4 L758.6,460.3 L758.9,463.3 L759.3,466.3 L759.7,469.3 L760.1,472.2 L760.4,475.2 L760.8,478.2 L761.2,481.2 L761.6,484.2 L761.9,487.1 L762.3,490.1 L762.6,493.1 L763.0,496.1 L763.4,499.0 L763.7,502.0 L764.1,505.0 L764.5,508.0 L764.8,511.0 L765.2,513.9 L765.5,516.9 L765.9,519.9 L766.2,522.9 L766.6,525.8 L767.0,528.8 L767.3,531.8 L767.7,534.8 L768.0,537.8 L768.4,540.7 L768.7,543.7 L769.1,546.7 L769.5,549.7 L769.8,552.7 L770.2,555.6 L770.5,558.6 L770.9,561.6 L771.2,564.6 L771.6,567.5 L772.0,570.5 L772.3,573.5 L772.7,576.5 L773.0,579.5 L773.4,582.4 L773.7,585.4 L774.1,588.4 L774.4,591.4 L774.8,594.4 L775.1,597.3 L775.5,600.3 L775.8,603.3 L776.2,606.3 L776.5,609.3 L776.9,612.2 L777.2,615.2 L777.6,618.2 L777.9,621.2 L778.3,624.2 L778.6,627.1 L779.0,630.1 L779.3,633.1 L779.7,636.1 L780.0,639.1 L780.4,642.0 L780.8,645.0 L781.1,648.0 L781.5,651.0 L781.8,653.9 L782.2,656.9 L782.6,659.9 L782.9,662.9 L783.3,665.9 L783.7,668.8 L784.1,671.8 L784.5,674.8 L784.9,677.8 L785.3,680.7 L785.7,683.7 L786.1,686.7 L786.5,689.6 L786.9,692.6 L787.3,695.6 L787.8,698.6 L788.2,701.5 L788.6,704.5 L789.1,707.5 L789.5,710.4 L789.9,713.4 L790.4,716.4 L790.8,719.3 L791.3,722.3 L791.7,725.3 L792.2,728.2 L792.6,731.2 L793.1,734.2 L793.6,737.1 L794.0,740.1 L794.5,743.0 L795.0,746.0 L795.4,749.0 L795.9,751.9 L796.4,754.9 L796.8,757.9 L797.3,760.8 L797.8,763.8 L798.3,766.7 L798.8,769.7 L799.2,772.7 L799.7,775.6 L800.2,778.6 L800.7,781.5 L801.3,784.5 L801.8,787.4 L802.3,790.4 L802.9,793.3 L803.4,796.3 L804.0,799.2 L804.6,802.2 L805.1,805.1 L805.7,808.1 L806.3,811.0 L806.9,814.0 L807.5,816.9 L808.2,819.8 L808.8,822.8 L809.4,825.7 L810.0,828.6 L810.7,831.6 L811.3,834.5 L812.0,837.4 L812.6,840.3 L813.3,843.3 L813.9,846.2 L814.6,849.1 L815.2,852.1 L815.9,855.0 L816.5,857.9 L817.2,860.9 L817.8,863.8 L818.5,866.7 L819.1,869.6 L819.8,872.6 L820.5,875.5 L821.2,878.4 L821.9,881.3 L822.7,884.2 L823.5,887.1 L824.3,890.0 L825.1,892.9 L826.0,895.7 L826.9,898.6 L827.8,901.5 L828.7,904.3 L829.7,907.1 L830.7,910.0 L831.8,912.8 L832.8,915.6 L833.9,918.4 L835.0,921.2 L836.1,924.0 L837.3,926.7 L838.4,929.5 L839.6,932.2 L840.9,935.0 L842.2,937.7 L843.5,940.4 L844.8,943.0 L846.2,945.7 L847.7,948.3 L849.2,950.9 L850.7,953.5 L852.2,956.1 L853.9,958.6 L855.5,961.1 L857.3,963.5 L859.1,965.9 L860.9,968.3 L862.8,970.6 L864.8,972.9 L866.8,975.1 L868.8,977.3 L871.0,979.3 L873.2,981.3 L875.5,983.3 L877.9,985.1 L880.3,986.8 L882.8,988.5 L885.3,990.1 L887.9,991.6 L890.6,993.0 L893.2,994.3 L896.0,995.6 L898.7,996.8 L901.5,998.0 L904.2,999.1 L907.1,1000.1 L909.9,1001.1 L912.7,1002.0 L915.6,1002.9 L918.5,1003.6 L921.4,1004.3 L924.4,1005.0 L927.3,1005.6 L930.2,1006.1 L933.2,1006.7 L936.2,1007.2 L939.1,1007.7 L942.1,1008.1 L945.0,1008.6 L948.0,1009.1 L951.0,1009.5 L954.0,1009.8 L956.9,1010.1 L959.9,1010.3 L962.9,1010.5 L965.9,1010.6 L968.9,1010.7 L971.9,1010.7 L974.9,1010.8 L977.9,1010.9 L980.9,1010.9 L983.9,1011.0 L986.9,1011.0 L989.9,1011.0 L992.9,1011.1 L995.9,1011.1 L998.9,1011.1 L1001.9,1011.1 L1004.9,1011.1 L1007.9,1011.1 L1010.9,1011.1 L1013.9,1011.1 L1016.9,1011.1 L1019.9,1011.1 L1022.9,1011.1 L1025.9,1011.1 L1028.9,1011.1 L1031.9,1011.1 L1034.9,1011.1 L1037.9,1011.1 L1040.9,1011.1 L1043.9,1011.1 L1046.9,1011.1 L1049.9,1011.1 L1052.9,1011.1 L1055.9,1011.1 L1058.9,1011.1 L1061.9,1011.1 L1064.9,1011.1 L1067.9,1011.1 L1070.9,1011.1 L1073.9,1011.1 L1076.9,1011.1 L1079.9,1011.1 L1082.9,1011.1 L1085.9,1011.1 L1088.9,1011.1 L1091.9,1011.1 L1094.9,1011.1 L1097.9,1011.1 L1100.9,1011.1 L1103.9,1011.1 L1106.9,1011.1 L1109.9,1011.1 L1112.9,1011.1 L1115.9,1011.1 L1118.9,1011.1 L1121.9,1011.1 L1124.9,1011.1 L1127.9,1011.1 L1130.9,1011.1 L1133.9,1011.1 L1136.9,1011.1 L1139.9,1011.1 L1142.9,1011.1 L1145.9,1011.1 L1148.9,1011.1 L1151.9,1011.1 L1154.9,1011.1 L1157.9,1011.1 L1160.9,1011.1 L1163.9,1011.1 L1166.9,1011.1 L1169.9,1011.1 L1172.9,1011.1 L1175.9,1011.1 L1178.9,1011.1 L1181.9,1011.1 L1184.9,1011.1 L1187.9,1011.1 L1190.9,1011.1 L1193.9,1011.1 L1196.9,1011.1 L1199.9,1011.1 L1202.9,1011.1 L1205.9,1011.1 L1208.9,1011.1 L1211.9,1011.1 L1214.9,1011.1 L1217.9,1011.1 L1220.9,1011.1 L1223.9,1011.1 L1226.9,1011.1 L1229.9,1011.1 L1232.9,1011.1 L1235.9,1011.1 L1238.9,1011.1 L1241.9,1011.1 L1244.9,1011.1 L1247.9,1011.1 L1250.9,1011.1 L1253.9,1011.1 L1256.9,1011.1 L1259.9,1011.1 L1262.9,1011.1 L1265.9,1011.1 L1268.9,1011.1 L1271.9,1011.1 L1274.9,1011.1 L1277.9,1011.1 L1280.9,1011.1 L1283.9,1011.1 L1286.9,1011.1 L1289.9,1011.1 L1292.9,1011.1 L1295.9,1011.1 L1298.9,1011.1 L1301.9,1011.1 L1304.9,1011.1 L1307.9,1011.1 L1310.9,1011.1 L1313.9,1011.1 L1316.9,1011.1 L1319.9,1011.1 L1322.9,1011.1 L1325.9,1011.1 L1328.9,1011.1 L1331.9,1011.1 L1334.9,1011.1 L1337.9,1011.1 L1340.9,1011.1 L1343.9,1011.1 L1346.9,1011.1 L1349.9,1011.1 L1352.9,1011.1 L1355.9,1011.1 L1358.9,1011.1 L1361.9,1011.1 L1364.9,1011.1 L1367.9,1011.1 L1370.9,1011.1 L1373.9,1011.1 L1376.9,1011.1 L1379.9,1011.1 L1382.9,1011.1 L1385.9,1011.1 L1388.9,1011.1 L1391.9,1011.1 L1394.9,1011.1 L1397.9,1011.1 L1400.9,1011.1 L1403.9,1011.1 L1406.9,1011.1 L1409.9,1011.1 L1412.9,1011.1 L1415.9,1011.1 L1418.9,1011.1 L1421.9,1011.1 L1424.9,1011.1 L1427.9,1011.1 L1430.9,1011.1 L1433.9,1011.1 L1436.9,1011.1 L1439.9,1011.1 L1442.9,1011.1 L1445.9,1011.1 L1448.9,1011.1 L1451.9,1011.1 L1454.9,1011.1 L1457.9,1011.1 L1460.9,1011.1 L1463.9,1011.1 L1466.9,1011.1 L1469.9,1011.1 L1472.9,1011.1 L1475.9,1011.1 L1478.9,1011.1 L1481.9,1011.1 L1484.9,1011.1 L1487.9,1011.1 L1490.9,1011.1 L1493.9,1011.1 L1496.9,1011.1 L1499.9,1011.1 L1502.9,1011.1 L1505.9,1011.1 L1508.9,1011.1 L1511.9,1011.1 L1514.9,1011.1 L1517.9,1011.1 L1520.9,1011.1 L1523.9,1011.1 L1526.9,1011.1 L1529.9,1011.1 L1532.9,1011.1 L1535.7,1011.1 L1538.4,1011.1 L1540.7,1011.1 L1545.0,1011.1 L1545.0,1011.1" fill="none" stroke="#00f" stroke-width="5.3" stroke-linejoin="round"/>
<polygon points="378.0,100.1 362.1,127.7 393.9,127.7" fill="#00f"/>
<polygon points="436.4,100.1 420.4,127.7 452.3,127.7" fill="#00f"/>
<polygon points="523.9,100.1 507.9,127.7 539.8,127.7" fill="#00f"/>
<polygon points="611.4,101.9 595.5,129.5 627.3,129.5" fill="#00f"/>
<polygon points="669.8,150.1 653.8,177.7 685.7,177.7" fill="#00f"/>
<polygon points="728.1,230.5 712.2,258.1 744.0,258.1" fill="#00f"/>
<polygon points="757.3,395.7 741.3,423.3 773.2,423.3" fill="#00f"/>
<polygon points="815.6,988.6 799.7,1016.2 831.6,1016.2" fill="#00f"/>
<polygon points="961.5,993.1 945.6,1020.7 977.4,1020.7" fill="#00f"/>
<polygon points="1253.2,993.1 1237.3,1020.7 1269.2,1020.7" fill="#00f"/>
<polygon points="1545.0,993.1 1529.1,1020.7 1560.9,1020.7" fill="#00f"/>
</g>
<g>
<path d="M378.0,129.0 L382.2,129.0 L384.5,129.0 L387.2,129.0 L390.0,129.0 L393.0,129.0 L396.0,129.0 L399.0,129.1 L402.0,129.1 L405.0,129.1 L408.0,129.1 L411.0,129.1 L414.0,129.1 L417.0,129.2 L420.0,129.2 L423.0,129.2 L426.0,129.2 L429.0,129.2 L432.0,129.3 L435.0,129.3 L438.0,129.3 L441.0,129.3 L444.0,129.4 L447.0,129.4 L450.0,129.4 L453.0,129.5 L456.0,129.5 L459.0,129.5 L462.0,129.6 L465.0,129.6 L468.0,129.6 L471.0,129.7 L474.0,129.7 L477.0,129.8 L480.0,129.8 L483.0,129.9 L486.0,130.0 L489.0,130.0 L492.0,130.1 L495.0,130.2 L498.0,130.3 L501.0,130.4 L504.0,130.5 L507.0,130.7 L510.0,130.8 L513.0,131.0 L516.0,131.3 L518.9,131.6 L521.9,131.9 L524.9,132.4 L527.8,132.9 L530.8,133.5 L533.7,134.1 L536.6,134.8 L539.5,135.5 L542.4,136.2 L545.3,137.0 L548.2,137.7 L551.1,138.5 L554.0,139.3 L556.9,140.1 L559.8,141.0 L562.6,141.9 L565.5,142.9 L568.3,143.9 L571.1,145.0 L573.8,146.2 L576.6,147.5 L579.3,148.7 L581.9,150.1 L584.6,151.5 L587.3,152.8 L589.9,154.3 L592.6,155.7 L595.2,157.1 L597.9,158.5 L600.5,159.9 L603.1,161.3 L605.8,162.7 L608.4,164.2 L611.0,165.6 L613.6,167.1 L616.2,168.7 L618.8,170.2 L621.3,171.9 L623.8,173.6 L626.2,175.3 L628.6,177.1 L630.9,179.0 L633.1,181.0 L635.3,183.1 L637.4,185.2 L639.4,187.4 L641.4,189.6 L643.4,191.9 L645.3,194.2 L647.2,196.5 L649.1,198.8 L651.0,201.2 L652.9,203.5 L654.8,205.8 L656.7,208.2 L658.5,210.5 L660.4,212.8 L662.3,215.2 L664.1,217.5 L666.0,219.9 L667.8,222.3 L669.6,224.7 L671.4,227.1 L673.2,229.5 L675.0,231.9 L676.7,234.4 L678.4,236.8 L680.1,239.3 L681.8,241.8 L683.5,244.3 L685.1,246.8 L686.8,249.3 L688.4,251.8 L690.0,254.4 L691.5,256.9 L693.1,259.5 L694.5,262.1 L696.0,264.7 L697.4,267.4 L698.7,270.1 L700.0,272.8 L701.2,275.5 L702.4,278.3 L703.5,281.1 L704.5,283.9 L705.6,286.7 L706.6,289.5 L707.6,292.3 L708.6,295.2 L709.5,298.0 L710.5,300.9 L711.5,303.7 L712.5,306.5 L713.4,309.4 L714.4,312.2 L715.5,315.0 L716.5,317.8 L717.5,320.7 L718.5,323.5 L719.5,326.3 L720.5,329.1 L721.5,332.0 L722.5,334.8 L723.4,337.7 L724.3,340.5 L725.2,343.4 L726.0,346.3 L726.8,349.2 L727.6,352.1 L728.3,355.0 L729.0,357.9 L729.7,360.8 L730.4,363.7 L731.1,366.7 L731.7,369.6 L732.3,372.5 L732.9,375.5 L733.5,378.4 L734.1,381.3 L734.7,384.3 L735.2,387.2 L735.8,390.2 L736.4,393.1 L736.9,396.1 L737.4,399.0 L738.0,402.0 L738.5,404.9 L739.0,407.9 L739.5,410.8 L740.1,413.8 L740.6,416.8 L741.1,419.7 L741.6,422.7 L742.1,425.6 L742.6,428.6 L743.1,431.5 L743.6,434.5 L744.1,437.5 L744.6,440.4 L745.1,443.4 L745.6,446.3 L746.0,449.3 L746.5,452.3 L747.0,455.2 L747.5,458.2 L748.0,461.1 L748.4,464.1 L748.9,467.1 L749.4,470.0 L749.8,473.0 L750.3,476.0 L750.7,478.9 L751.2,481.9 L751.6,484.9 L752.1,487.8 L752.5,490.8 L752.9,493.8 L753.4,496.7 L753.8,499.7 L754.2,502.7 L754.6,505.6 L755.0,508.6 L755.5,511.6 L755.9,514.6 L756.3,517.5 L756.7,520.5 L757.1,523.5 L757.5,526.4 L757.9,529.4 L758.3,532.4 L758.7,535.4 L759.1,538.3 L759.5,541.3 L759.9,544.3 L760.3,547.3 L760.7,550.2 L761.1,553.2 L761.5,556.2 L761.9,559.2 L762.3,562.1 L762.7,565.1 L763.1,568.1 L763.5,571.0 L763.9,574.0 L764.2,577.0 L764.6,580.0 L765.0,583.0 L765.4,585.9 L765.7,588.9 L766.1,591.9 L766.4,594.9 L766.8,597.8 L767.1,600.8 L767.5,603.8 L767.8,606.8 L768.2,609.8 L768.5,612.7 L768.9,615.7 L769.2,618.7 L769.6,621.7 L769.9,624.7 L770.2,627.6 L770.6,630.6 L770.9,633.6 L771.3,636.6 L771.6,639.6 L772.0,642.5 L772.3,645.5 L772.7,648.5 L773.0,651.5 L773.4,654.5 L773.8,657.4 L774.1,660.4 L774.5,663.4 L774.9,666.4 L775.3,669.3 L775.6,672.3 L776.0,675.3 L776.4,678.3 L776.9,681.2 L777.3,684.2 L777.7,687.2 L778.1,690.1 L778.6,693.1 L779.0,696.1 L779.5,699.0 L779.9,702.0 L780.4,705.0 L780.9,707.9 L781.3,710.9 L781.8,713.9 L782.3,716.8 L782.8,719.8 L783.2,722.7 L783.7,725.7 L784.2,728.7 L784.7,731.6 L785.2,734.6 L785.7,737.5 L786.2,740.5 L786.6,743.5 L787.1,746.4 L787.6,749.4 L788.1,752.4 L788.6,755.3 L789.0,758.3 L789.5,761.2 L790.0,764.2 L790.5,767.2 L790.9,770.1 L791.4,773.1 L791.9,776.0 L792.4,779.0 L792.9,782.0 L793.4,784.9 L794.0,787.9 L794.5,790.8 L795.1,793.8 L795.6,796.7 L796.2,799.7 L796.7,802.6 L797.3,805.6 L797.9,808.5 L798.5,811.4 L799.1,814.4 L799.7,817.3 L800.4,820.2 L801.0,823.2 L801.6,826.1 L802.2,829.0 L802.9,832.0 L803.5,834.9 L804.2,837.8 L804.8,840.8 L805.5,843.7 L806.1,846.6 L806.7,849.6 L807.4,852.5 L808.0,855.4 L808.7,858.3 L809.3,861.3 L810.0,864.2 L810.6,867.1 L811.3,870.1 L811.9,873.0 L812.6,875.9 L813.3,878.8 L814.1,881.7 L814.8,884.6 L815.6,887.5 L816.4,890.4 L817.3,893.3 L818.1,896.2 L819.1,899.0 L820.0,901.9 L821.0,904.7 L822.0,907.5 L823.0,910.3 L824.1,913.1 L825.1,916.0 L826.2,918.7 L827.3,921.5 L828.4,924.3 L829.6,927.1 L830.8,929.9 L832.0,932.6 L833.2,935.3 L834.5,938.1 L835.8,940.7 L837.1,943.4 L838.5,946.1 L840.0,948.7 L841.5,951.3 L843.0,953.9 L844.6,956.4 L846.2,958.9 L847.9,961.4 L849.7,963.8 L851.5,966.2 L853.3,968.6 L855.2,970.9 L857.2,973.2 L859.2,975.4 L861.3,977.5 L863.4,979.6 L865.7,981.6 L868.0,983.4 L870.4,985.2 L872.9,986.9 L875.5,988.4 L878.1,989.9 L880.7,991.4 L883.4,992.7 L886.1,994.0 L888.8,995.3 L891.5,996.5 L894.3,997.7 L897.1,998.8 L899.9,999.9 L902.7,1000.9 L905.5,1001.8 L908.4,1002.7 L911.3,1003.5 L914.2,1004.2 L917.1,1004.9 L920.0,1005.5 L923.0,1006.1 L925.9,1006.6 L928.9,1007.1 L931.9,1007.6 L934.8,1008.0 L937.8,1008.4 L940.8,1008.8 L943.7,1009.2 L946.7,1009.5 L949.7,1009.8 L952.7,1010.1 L955.7,1010.3 L958.7,1010.4 L961.7,1010.5 L964.7,1010.6 L967.7,1010.7 L970.7,1010.8 L973.7,1010.8 L976.7,1010.9 L979.7,1010.9 L982.7,1011.0 L985.7,1011.0 L988.7,1011.0 L991.7,1011.1 L994.7,1011.1 L997.7,1011.1 L1000.7,1011.1 L1003.7,1011.1 L1006.7,1011.1 L1009.7,1011.1 L1012.7,1011.1 L1015.7,1011.1 L1018.7,1011.1 L1021.7,1011.1 L1024.7,1011.1 L1027.7,1011.1 L1030.7,1011.1 L1033.7,1011.1 L1036.7,1011.1 L1039.7,1011.1 L1042.7,1011.1 L1045.7,1011.1 L1048.7,1011.1 L1051.7,1011.1 L1054.7,1011.1 L1057.7,1011.1 L1060.7,1011.1 L1063.7,1011.1 L1066.7,1011.1 L1069.7,1011.1 L1072.7,1011.1 L1075.7,1011.1 L1078.7,1011.1 L1081.7,1011.1 L1084.7,1011.1 L1087.7,1011.1 L1090.7,1011.1 L1093.7,1011.1 L1096.7,1011.1 L1099.7,1011.1 L1102.7,1011.1 L1105.7,1011.1 L1108.7,1011.1 L1111.7,1011.1 L1114.7,1011.1 L1117.7,1011.1 L1120.7,1011.1 L1123.7,1011.1 L1126.7,1011.1 L1129.7,1011.1 L1132.7,1011.1 L1135.7,1011.1 L1138.7,1011.1 L1141.7,1011.1 L1144.7,1011.1 L1147.7,1011.1 L1150.7,1011.1 L1153.7,1011.1 L1156.7,1011.1 L1159.7,1011.1 L1162.7,1011.1 L1165.7,1011.1 L1168.7,1011.1 L1171.7,1011.1 L1174.7,1011.1 L1177.7,1011.1 L1180.7,1011.1 L1183.7,1011.1 L1186.7,1011.1 L1189.7,1011.1 L1192.7,1011.1 L1195.7,1011.1 L1198.7,1011.1 L1201.7,1011.1 L1204.7,1011.1 L1207.7,1011.1 L1210.7,1011.1 L1213.7,1011.1 L1216.7,1011.1 L1219.7,1011.1 L1222.7,1011.1 L1225.7,1011.1 L1228.7,1011.1 L1231.7,1011.1 L1234.7,1011.1 L1237.7,1011.1 L1240.7,1011.1 L1243.7,1011.1 L1246.7,1011.1 L1249.7,1011.1 L1252.7,1011.1 L1255.7,1011.1 L1258.7,1011.1 L1261.7,1011.1 L1264.7,1011.1 L1267.7,1011.1 L1270.7,1011.1 L1273.7,1011.1 L1276.7,1011.1 L1279.7,1011.1 L1282.7,1011.1 L1285.7,1011.1 L1288.7,1011.1 L1291.7,1011.1 L1294.7,1011.1 L1297.7,1011.1 L1300.7,1011.1 L1303.7,1011.1 L1306.7,1011.1 L1309.7,1011.1 L1312.7,1011.1 L1315.7,1011.1 L1318.7,1011.1 L1321.7,1011.1 L1324.7,1011.1 L1327.7,1011.1 L1330.7,1011.1 L1333.7,1011.1 L1336.7,1011.1 L1339.7,1011.1 L1342.7,1011.1 L1345.7,1011.1 L1348.7,1011.1 L1351.7,1011.1 L1354.7,1011.1 L1357.7,1011.1 L1360.7,1011.1 L1363.7,1011.1 L1366.7,1011.1 L1369.7,1011.1 L1372.7,1011.1 L1375.7,1011.1 L1378.7,1011.1 L1381.7,1011.1 L1384.7,1011.1 L1387.7,1011.1 L1390.7,1011.1 L1393.7,1011.1 L1396.7,1011.1 L1399.7,1011.1 L1402.7,1011.1 L1405.7,1011.1 L1408.7,1011.1 L1411.7,1011.1 L1414.7,1011.1 L1417.7,1011.1 L1420.7,1011.1 L1423.7,1011.1 L1426.7,1011.1 L1429.7,1011.1 L1432.7,1011.1 L1435.7,1011.1 L1438.7,1011.1 L1441.7,1011.1 L1444.7,1011.1 L1447.7,1011.1 L1450.7,1011.1 L1453.7,1011.1 L1456.7,1011.1 L1459.7,1011.1 L1462.7,1011.1 L1465.7,1011.1 L1468.7,1011.1 L1471.7,1011.1 L1474.7,1011.1 L1477.7,1011.1 L1480.7,1011.1 L1483.7,1011.1 L1486.7,1011.1 L1489.7,1011.1 L1492.7,1011.1 L1495.7,1011.1 L1498.7,1011.1 L1501.7,1011.1 L1504.7,1011.1 L1507.7,1011.1 L1510.7,1011.1 L1513.7,1011.1 L1516.7,1011.1 L1519.7,1011.1 L1522.7,1011.1 L1525.7,1011.1 L1528.7,1011.1 L1531.6,1011.1 L1534.6,1011.1 L1537.3,1011.1 L1539.8,1011.1 L1541.8,1011.1 L1545.0,1011.1" fill="none" stroke="#008080" stroke-width="5.3" stroke-linejoin="round"/>
<polygon points="378.0,147.6 362.1,120.0 393.9,120.0" fill="#008080"/>
<polygon points="436.4,147.6 420.4,120.0 452.3,120.0" fill="#008080"/>
<polygon points="523.9,149.4 507.9,121.8 539.8,121.8" fill="#008080"/>
<polygon points="611.4,171.7 595.5,144.1 627.3,144.1" fill="#008080"/>
<polygon points="669.8,238.7 653.8,211.1 685.7,211.1" fill="#008080"/>
<polygon points="728.1,343.2 712.2,315.6 744.0,315.6" fill="#008080"/>
<polygon points="757.3,535.2 741.3,507.6 773.2,507.6" fill="#008080"/>
<polygon points="815.6,1029.5 799.7,1001.9 831.6,1001.9" fill="#008080"/>
<polygon points="961.5,1029.9 945.6,1002.3 977.4,1002.3" fill="#008080"/>
<polygon points="1253.2,1029.9 1237.3,1002.3 1269.2,1002.3" fill="#008080"/>
<polygon points="1545.0,1029.9 1529.1,1002.3 1560.9,1002.3" fill="#008080"/>
</g>
<g>
<path d="M378.0,135.0 L382.2,135.0 L384.5,135.0 L387.2,135.0 L390.0,135.0 L393.0,135.0 L396.0,135.0 L399.0,135.0 L402.0,135.0 L405.0,135.0 L408.0,135.0 L411.0,135.0 L414.0,135.0 L417.0,135.0 L420.0,135.0 L423.0,135.0 L426.0,135.0 L429.0,135.0 L432.0,135.0 L435.0,135.0 L438.0,135.0 L441.0,135.0 L444.0,135.0 L447.0,135.0 L450.0,135.0 L453.0,135.0 L456.0,135.0 L459.0,135.0 L462.0,135.0 L465.0,135.0 L468.0,135.0 L471.0,135.1 L474.0,135.1 L477.0,135.1 L480.0,135.1 L483.0,135.1 L486.0,135.1 L489.0,135.1 L492.0,135.2 L495.0,135.2 L498.0,135.2 L501.0,135.2 L504.0,135.3 L507.0,135.3 L510.0,135.4 L513.0,135.5 L516.0,135.6 L519.0,135.8 L522.0,136.0 L525.0,136.3 L527.9,136.7 L530.9,137.1 L533.8,137.6 L536.8,138.2 L539.7,138.8 L542.7,139.4 L545.6,140.0 L548.5,140.6 L551.5,141.3 L554.4,142.0 L557.3,142.7 L560.2,143.5 L563.0,144.4 L565.9,145.3 L568.7,146.3 L571.5,147.4 L574.2,148.6 L576.9,149.9 L579.6,151.2 L582.3,152.7 L584.9,154.2 L587.4,155.7 L590.0,157.3 L592.5,158.9 L595.0,160.5 L597.5,162.2 L599.9,164.0 L602.3,165.8 L604.6,167.7 L606.9,169.6 L609.2,171.6 L611.4,173.6 L613.6,175.7 L615.7,177.8 L617.7,180.0 L619.7,182.2 L621.6,184.5 L623.5,186.8 L625.3,189.2 L627.1,191.7 L628.8,194.1 L630.5,196.6 L632.2,199.1 L633.8,201.6 L635.4,204.1 L637.0,206.7 L638.5,209.3 L640.1,211.8 L641.6,214.4 L643.0,217.0 L644.5,219.7 L645.9,222.3 L647.3,225.0 L648.6,227.7 L650.0,230.3 L651.3,233.0 L652.7,235.7 L654.0,238.4 L655.4,241.1 L656.7,243.7 L658.1,246.4 L659.4,249.1 L660.8,251.8 L662.2,254.4 L663.5,257.1 L664.9,259.8 L666.2,262.5 L667.5,265.2 L668.9,267.8 L670.2,270.5 L671.5,273.2 L672.8,275.9 L674.1,278.6 L675.4,281.4 L676.7,284.1 L677.9,286.8 L679.2,289.5 L680.5,292.2 L681.7,295.0 L682.9,297.7 L684.1,300.5 L685.3,303.2 L686.4,306.0 L687.5,308.8 L688.6,311.6 L689.6,314.4 L690.6,317.2 L691.5,320.1 L692.5,322.9 L693.4,325.8 L694.2,328.7 L695.1,331.5 L695.9,334.4 L696.8,337.3 L697.6,340.2 L698.5,343.1 L699.3,345.9 L700.2,348.8 L701.0,351.7 L701.9,354.6 L702.8,357.4 L703.7,360.3 L704.6,363.1 L705.5,366.0 L706.4,368.9 L707.3,371.7 L708.2,374.6 L709.2,377.4 L710.1,380.3 L711.0,383.2 L711.8,386.0 L712.7,388.9 L713.6,391.8 L714.4,394.6 L715.2,397.5 L716.0,400.4 L716.8,403.3 L717.6,406.2 L718.3,409.1 L719.1,412.0 L719.8,414.9 L720.5,417.9 L721.2,420.8 L721.9,423.7 L722.6,426.6 L723.2,429.5 L723.9,432.5 L724.5,435.4 L725.2,438.3 L725.8,441.3 L726.5,444.2 L727.1,447.1 L727.7,450.1 L728.3,453.0 L728.9,455.9 L729.6,458.9 L730.2,461.8 L730.8,464.7 L731.4,467.7 L731.9,470.6 L732.5,473.6 L733.1,476.5 L733.7,479.5 L734.3,482.4 L734.8,485.3 L735.4,488.3 L735.9,491.2 L736.5,494.2 L737.0,497.1 L737.6,500.1 L738.1,503.0 L738.7,506.0 L739.2,508.9 L739.7,511.9 L740.3,514.9 L740.8,517.8 L741.3,520.8 L741.8,523.7 L742.4,526.7 L742.9,529.6 L743.4,532.6 L743.9,535.5 L744.4,538.5 L744.9,541.4 L745.4,544.4 L745.9,547.4 L746.4,550.3 L746.9,553.3 L747.4,556.2 L747.9,559.2 L748.4,562.2 L748.9,565.1 L749.4,568.1 L749.9,571.0 L750.3,574.0 L750.8,577.0 L751.3,579.9 L751.7,582.9 L752.2,585.9 L752.7,588.8 L753.1,591.8 L753.6,594.8 L754.0,597.7 L754.4,600.7 L754.9,603.7 L755.3,606.6 L755.7,609.6 L756.2,612.6 L756.6,615.5 L757.0,618.5 L757.5,621.5 L757.9,624.4 L758.3,627.4 L758.7,630.4 L759.2,633.3 L759.6,636.3 L760.0,639.3 L760.5,642.3 L760.9,645.2 L761.3,648.2 L761.7,651.2 L762.2,654.1 L762.6,657.1 L763.1,660.1 L763.5,663.0 L764.0,666.0 L764.4,669.0 L764.9,671.9 L765.3,674.9 L765.8,677.9 L766.3,680.8 L766.8,683.8 L767.2,686.7 L767.7,689.7 L768.2,692.7 L768.7,695.6 L769.2,698.6 L769.7,701.5 L770.2,704.5 L770.7,707.4 L771.2,710.4 L771.8,713.4 L772.3,716.3 L772.8,719.3 L773.3,722.2 L773.8,725.2 L774.3,728.1 L774.9,731.1 L775.4,734.0 L775.9,737.0 L776.4,740.0 L776.9,742.9 L777.4,745.9 L778.0,748.8 L778.5,751.8 L779.0,754.7 L779.5,757.7 L780.0,760.6 L780.5,763.6 L781.0,766.6 L781.5,769.5 L782.0,772.5 L782.6,775.4 L783.1,778.4 L783.6,781.3 L784.2,784.3 L784.7,787.2 L785.3,790.2 L785.8,793.1 L786.4,796.1 L787.0,799.0 L787.6,801.9 L788.2,804.9 L788.8,807.8 L789.4,810.8 L790.0,813.7 L790.7,816.6 L791.3,819.6 L792.0,822.5 L792.6,825.4 L793.2,828.3 L793.9,831.3 L794.6,834.2 L795.2,837.1 L795.9,840.1 L796.6,843.0 L797.2,845.9 L797.9,848.8 L798.6,851.7 L799.2,854.7 L799.9,857.6 L800.6,860.5 L801.3,863.4 L802.0,866.4 L802.7,869.3 L803.4,872.2 L804.1,875.1 L804.8,878.0 L805.6,880.9 L806.3,883.8 L807.1,886.7 L807.9,889.6 L808.8,892.5 L809.7,895.3 L810.6,898.2 L811.5,901.1 L812.5,903.9 L813.5,906.7 L814.5,909.6 L815.5,912.4 L816.5,915.2 L817.6,918.0 L818.7,920.8 L819.8,923.6 L820.9,926.3 L822.1,929.1 L823.3,931.9 L824.5,934.6 L825.8,937.3 L827.1,940.0 L828.5,942.7 L829.9,945.3 L831.4,947.9 L833.0,950.5 L834.6,953.0 L836.2,955.5 L837.9,957.9 L839.7,960.4 L841.5,962.7 L843.4,965.1 L845.4,967.4 L847.3,969.6 L849.4,971.8 L851.4,974.0 L853.6,976.1 L855.8,978.1 L858.1,980.0 L860.4,981.9 L862.8,983.6 L865.3,985.3 L867.9,986.8 L870.5,988.3 L873.2,989.7 L875.8,991.0 L878.6,992.3 L881.3,993.5 L884.0,994.7 L886.8,995.9 L889.6,997.1 L892.3,998.2 L895.1,999.2 L898.0,1000.3 L900.8,1001.2 L903.7,1002.1 L906.5,1003.0 L909.4,1003.7 L912.4,1004.4 L915.3,1005.1 L918.2,1005.7 L921.2,1006.2 L924.1,1006.7 L927.1,1007.2 L930.0,1007.7 L933.0,1008.1 L936.0,1008.5 L939.0,1008.9 L941.9,1009.2 L944.9,1009.6 L947.9,1009.8 L950.9,1010.1 L953.9,1010.3 L956.9,1010.4 L959.9,1010.5 L962.9,1010.7 L965.9,1010.7 L968.9,1010.8 L971.9,1010.9 L974.9,1011.0 L977.9,1011.0 L980.9,1011.1 L983.9,1011.2 L986.9,1011.2 L989.9,1011.2 L992.9,1011.3 L995.9,1011.3 L998.9,1011.3 L1001.9,1011.3 L1004.9,1011.3 L1007.9,1011.3 L1010.9,1011.3 L1013.9,1011.3 L1016.9,1011.3 L1019.9,1011.3 L1022.9,1011.3 L1025.9,1011.3 L1028.9,1011.3 L1031.9,1011.3 L1034.9,1011.3 L1037.9,1011.3 L1040.9,1011.3 L1043.9,1011.3 L1046.9,1011.3 L1049.9,1011.3 L1052.9,1011.3 L1055.9,1011.3 L1058.9,1011.3 L1061.9,1011.3 L1064.9,1011.3 L1067.9,1011.3 L1070.9,1011.3 L1073.9,1011.3 L1076.9,1011.3 L1079.9,1011.3 L1082.9,1011.3 L1085.9,1011.3 L1088.9,1011.3 L1091.9,1011.3 L1094.9,1011.3 L1097.9,1011.3 L1100.9,1011.3 L1103.9,1011.3 L1106.9,1011.3 L1109.9,1011.3 L1112.9,1011.3 L1115.9,1011.3 L1118.9,1011.3 L1121.9,1011.3 L1124.9,1011.3 L1127.9,1011.3 L1130.9,1011.3 L1133.9,1011.3 L1136.9,1011.3 L1139.9,1011.3 L1142.9,1011.3 L1145.9,1011.3 L1148.9,1011.3 L1151.9,1011.3 L1154.9,1011.3 L1157.9,1011.3 L1160.9,1011.3 L1163.9,1011.3 L1166.9,1011.3 L1169.9,1011.3 L1172.9,1011.3 L1175.9,1011.3 L1178.9,1011.3 L1181.9,1011.3 L1184.9,1011.3 L1187.9,1011.3 L1190.9,1011.3 L1193.9,1011.3 L1196.9,1011.3 L1199.9,1011.3 L1202.9,1011.3 L1205.9,1011.3 L1208.9,1011.3 L1211.9,1011.3 L1214.9,1011.3 L1217.9,1011.3 L1220.9,1011.3 L1223.9,1011.3 L1226.9,1011.3 L1229.9,1011.3 L1232.9,1011.3 L1235.9,1011.3 L1238.9,1011.3 L1241.9,1011.3 L1244.9,1011.3 L1247.9,1011.3 L1250.9,1011.3 L1253.9,1011.3 L1256.9,1011.3 L1259.9,1011.3 L1262.9,1011.3 L1265.9,1011.3 L1268.9,1011.3 L1271.9,1011.3 L1274.9,1011.3 L1277.9,1011.3 L1280.9,1011.3 L1283.9,1011.3 L1286.9,1011.3 L1289.9,1011.3 L1292.9,1011.3 L1295.9,1011.3 L1298.9,1011.3 L1301.9,1011.3 L1304.9,1011.3 L1307.9,1011.3 L1310.9,1011.3 L1313.9,1011.3 L1316.9,1011.3 L1319.9,1011.3 L1322.9,1011.3 L1325.9,1011.3 L1328.9,1011.3 L1331.9,1011.3 L1334.9,1011.3 L1337.9,1011.3 L1340.9,1011.3 L1343.9,1011.3 L1346.9,1011.3 L1349.9,1011.3 L1352.9,1011.3 L1355.9,1011.3 L1358.9,1011.3 L1361.9,1011.3 L1364.9,1011.3 L1367.9,1011.3 L1370.9,1011.3 L1373.9,1011.3 L1376.9,1011.3 L1379.9,1011.3 L1382.9,1011.3 L1385.9,1011.3 L1388.9,1011.3 L1391.9,1011.3 L1394.9,1011.3 L1397.9,1011.3 L1400.9,1011.3 L1403.9,1011.3 L1406.9,1011.3 L1409.9,1011.3 L1412.9,1011.3 L1415.9,1011.3 L1418.9,1011.3 L1421.9,1011.3 L1424.9,1011.3 L1427.9,1011.3 L1430.9,1011.3 L1433.9,1011.3 L1436.9,1011.3 L1439.9,1011.3 L1442.9,1011.3 L1445.9,1011.3 L1448.9,1011.3 L1451.9,1011.3 L1454.9,1011.3 L1457.9,1011.3 L1460.9,1011.3 L1463.9,1011.3 L1466.9,1011.3 L1469.9,1011.3 L1472.9,1011.3 L1475.9,1011.3 L1478.9,1011.3 L1481.9,1011.3 L1484.9,1011.3 L1487.9,1011.3 L1490.9,1011.3 L1493.9,1011.3 L1496.9,1011.3 L1499.9,1011.3 L1502.9,1011.3 L1505.9,1011.3 L1508.9,1011.3 L1511.9,1011.3 L1514.9,1011.3 L1517.9,1011.3 L1520.9,1011.3 L1523.9,1011.3 L1526.9,1011.3 L1529.9,1011.3 L1532.8,1011.3 L1535.7,1011.3 L1538.4,1011.3 L1540.7,1011.3 L1545.0,1011.3 L1545.0,1011.3" fill="none" stroke="#f0f" stroke-width="5.3" stroke-linejoin="round"/>
<polygon points="359.6,134.6 388.4,118.2 388.4,150.9" fill="#f0f"/>
<polygon points="418.0,136.4 446.8,120.0 446.8,152.7" fill="#f0f"/>
<polygon points="505.5,136.4 534.3,120.0 534.3,152.7" fill="#f0f"/>
<polygon points="593.0,154.2 621.8,137.9 621.8,170.6" fill="#f0f"/>
<polygon points="651.4,257.8 680.2,241.5 680.2,274.1" fill="#f0f"/>
<polygon points="709.7,427.5 738.5,411.1 738.5,443.8" fill="#f0f"/>
<polygon points="738.9,619.5 767.7,603.1 767.7,635.8" fill="#f0f"/>
<polygon points="797.2,1009.3 826.0,992.9 826.0,1025.6" fill="#f0f"/>
<polygon points="943.1,1011.5 971.9,995.2 971.9,1027.8" fill="#f0f"/>
<polygon points="1234.8,1011.5 1263.7,995.2 1263.7,1027.8" fill="#f0f"/>
<polygon points="1526.6,1011.5 1555.4,995.2 1555.4,1027.8" fill="#f0f"/>
</g>
<g stroke="#000" fill="none">
<line x1="217.6" y1="28.4" x2="1694.8" y2="28.4" stroke-width="6.4"/>
<line x1="217.6" y1="1102" x2="1694.8" y2="1102" stroke-width="6.4"/>
<line x1="232" y1="25.2" x2="232" y2="1116" stroke-width="7"/>
<line x1="1691.3" y1="25.2" x2="1691.3" y2="1115.5" stroke-width="7"/>
<line x1="207" y1="1011.5" x2="232" y2="1011.5" stroke-width="6"/>
<line x1="217.6" y1="922.2" x2="232" y2="922.2" stroke-width="6"/>
<line x1="207" y1="832.9" x2="232" y2="832.9" stroke-width="6"/>
<line x1="217.6" y1="743.6" x2="232" y2="743.6" stroke-width="6"/>
<line x1="207" y1="654.3" x2="232" y2="654.3" stroke-width="6"/>
<line x1="217.6" y1="565.0" x2="232" y2="565.0" stroke-width="6"/>
<line x1="207" y1="475.7" x2="232" y2="475.7" stroke-width="6"/>
<line x1="217.6" y1="386.4" x2="232" y2="386.4" stroke-width="6"/>
<line x1="207" y1="297.1" x2="232" y2="297.1" stroke-width="6"/>
<line x1="217.6" y1="207.8" x2="232" y2="207.8" stroke-width="6"/>
<line x1="207" y1="118.5" x2="232" y2="118.5" stroke-width="6"/>
<line x1="378.0" y1="1102" x2="378.0" y2="1126" stroke-width="7"/>
<line x1="523.9" y1="1102" x2="523.9" y2="1116" stroke-width="7"/>
<line x1="669.8" y1="1102" x2="669.8" y2="1126" stroke-width="7"/>
<line x1="815.6" y1="1102" x2="815.6" y2="1116" stroke-width="7"/>
<line x1="961.5" y1="1102" x2="961.5" y2="1126" stroke-width="7"/>
<line x1="1107.4" y1="1102" x2="1107.4" y2="1116" stroke-width="7"/>
<line x1="1253.2" y1="1102" x2="1253.2" y2="1126" stroke-width="7"/>
<line x1="1399.1" y1="1102" x2="1399.1" y2="1116" stroke-width="7"/>
<line x1="1545.0" y1="1102" x2="1545.0" y2="1126" stroke-width="7"/>
</g>
<g font-weight="bold" font-size="61" fill="#000">
<text x="195" y="1027.0" text-anchor="end">0</text>
<text x="195" y="848.4" text-anchor="end">20</text>
<text x="195" y="669.8" text-anchor="end">40</text>
<text x="195" y="491.2" text-anchor="end">60</text>
<text x="195" y="312.6" text-anchor="end">80</text>
<text x="195" y="134.0" text-anchor="end">100</text>
<text x="377.5" y="1185.3" text-anchor="middle">20</text>
<text x="669.2" y="1185.3" text-anchor="middle">30</text>
<text x="961.0" y="1185.3" text-anchor="middle">40</text>
<text x="1252.8" y="1185.3" text-anchor="middle">50</text>
<text x="1544.5" y="1185.3" text-anchor="middle">60</text>
</g>
<text transform="translate(73.8,556.5) rotate(-90)" text-anchor="middle" font-weight="bold" font-size="62.6">Transmittance/%</text>
<text x="938.3" y="1288.6" text-anchor="middle" font-weight="bold" font-size="61">Temperature/<tspan font-weight="normal" dy="-4.5">°</tspan><tspan dy="4.5">C</tspan></text>
<rect x="1260" y="37.5" width="407.5" height="354" fill="#fff" stroke="#6a6a6a" stroke-width="2"/>
<line x1="1266.6" y1="75.4" x2="1389.2" y2="75.4" stroke="#000" stroke-width="5"/>
<rect x="1314.5" y="63.2" width="24.5" height="24.5" fill="#000"/>
<text x="1401.3" y="95.2" font-size="58" textLength="262.5" lengthAdjust="spacing">PNIPAAm</text>
<line x1="1266.6" y1="146.7" x2="1389.2" y2="146.7" stroke="#f00" stroke-width="5"/>
<circle cx="1326.8" cy="146.7" r="13.4" fill="#f00"/>
<text x="1401.3" y="166.2" font-size="58">IPN-1</text>
<line x1="1266.6" y1="217.9" x2="1389.2" y2="217.9" stroke="#00f" stroke-width="5"/>
<polygon points="1326.8,199.5 1310.9,227.1 1342.7,227.1" fill="#00f"/>
<text x="1401.3" y="237.3" font-size="58">IPN-2</text>
<line x1="1266.6" y1="289.1" x2="1389.2" y2="289.1" stroke="#008080" stroke-width="5"/>
<polygon points="1326.8,307.5 1310.9,279.9 1342.7,279.9" fill="#008080"/>
<text x="1401.3" y="308.3" font-size="58">IPN-3</text>
<line x1="1266.6" y1="360.4" x2="1389.2" y2="360.4" stroke="#f0f" stroke-width="5"/>
<polygon points="1308.4,360.4 1337.2,344.1 1337.2,376.7" fill="#f0f"/>
<text x="1401.3" y="379.4" font-size="58">IPN-4</text>
<g stroke="#3c3c3c" fill="none" stroke-width="3.4">
<line x1="1005" y1="408.5" x2="1005" y2="906"/>
<line x1="998.6" y1="899.8" x2="1673" y2="899.8"/>
<line x1="1671.5" y1="899.8" x2="1671.5" y2="906"/>
<line x1="993.5" y1="859.3" x2="1005" y2="859.3"/>
<line x1="999" y1="818.5" x2="1005" y2="818.5"/>
<line x1="993.5" y1="777.7" x2="1005" y2="777.7"/>
<line x1="999" y1="736.9" x2="1005" y2="736.9"/>
<line x1="993.5" y1="696.1" x2="1005" y2="696.1"/>
<line x1="999" y1="655.3" x2="1005" y2="655.3"/>
<line x1="993.5" y1="614.5" x2="1005" y2="614.5"/>
<line x1="999" y1="573.7" x2="1005" y2="573.7"/>
<line x1="993.5" y1="532.9" x2="1005" y2="532.9"/>
<line x1="999" y1="492.1" x2="1005" y2="492.1"/>
<line x1="993.5" y1="451.3" x2="1005" y2="451.3"/>
<line x1="999" y1="410.5" x2="1005" y2="410.5"/>
<line x1="1072.0" y1="899.8" x2="1072.0" y2="910.5"/>
<line x1="1138.7" y1="899.8" x2="1138.7" y2="906"/>
<line x1="1205.3" y1="899.8" x2="1205.3" y2="910.5"/>
<line x1="1272.0" y1="899.8" x2="1272.0" y2="906"/>
<line x1="1338.6" y1="899.8" x2="1338.6" y2="910.5"/>
<line x1="1405.2" y1="899.8" x2="1405.2" y2="906"/>
<line x1="1471.9" y1="899.8" x2="1471.9" y2="910.5"/>
<line x1="1538.5" y1="899.8" x2="1538.5" y2="906"/>
<line x1="1605.2" y1="899.8" x2="1605.2" y2="910.5"/>
</g>
<g font-size="30" fill="#111" stroke="#111" stroke-width="1.3" stroke-linejoin="round">
<text x="987" y="866.9" text-anchor="end">0</text>
<text x="987" y="785.3" text-anchor="end">5</text>
<text x="987" y="703.7" text-anchor="end">10</text>
<text x="987" y="622.1" text-anchor="end">15</text>
<text x="987" y="540.5" text-anchor="end">20</text>
<text x="987" y="458.9" text-anchor="end">25</text>
<text x="1071.5" y="939.2" text-anchor="middle">20</text>
<text x="1204.8" y="939.2" text-anchor="middle">30</text>
<text x="1338.1" y="939.2" text-anchor="middle">40</text>
<text x="1471.4" y="939.2" text-anchor="middle">50</text>
<text x="1604.7" y="939.2" text-anchor="middle">60</text>
</g>
<polyline points="1072.0,859.3 1098.7,859.3 1138.7,852.6 1178.6,822.3 1205.3,781.1 1232.0,637.3 1245.3,460.3 1272.0,635.7 1338.6,859.3 1471.9,859.3 1605.2,859.3" fill="none" stroke="#000" stroke-width="3.3"/>
<line x1="1245.9" y1="888.3" x2="1245.9" y2="469.1" stroke="#000" stroke-width="2.7" stroke-dasharray="12 9.3"/>
<rect x="1065.8" y="853.5" width="12.4" height="11.6" fill="#000" stroke="#fff" stroke-width="1" paint-order="stroke"/>
<rect x="1092.5" y="853.5" width="12.4" height="11.6" fill="#000" stroke="#fff" stroke-width="1" paint-order="stroke"/>
<rect x="1132.5" y="846.8" width="12.4" height="11.6" fill="#000" stroke="#fff" stroke-width="1" paint-order="stroke"/>
<rect x="1172.4" y="816.5" width="12.4" height="11.6" fill="#000" stroke="#fff" stroke-width="1" paint-order="stroke"/>
<rect x="1199.1" y="775.3" width="12.4" height="11.6" fill="#000" stroke="#fff" stroke-width="1" paint-order="stroke"/>
<rect x="1225.8" y="631.5" width="12.4" height="11.6" fill="#000" stroke="#fff" stroke-width="1" paint-order="stroke"/>
<rect x="1239.1" y="454.5" width="12.4" height="11.6" fill="#000" stroke="#fff" stroke-width="1" paint-order="stroke"/>
<rect x="1265.8" y="629.9" width="12.4" height="11.6" fill="#000" stroke="#fff" stroke-width="1" paint-order="stroke"/>
<rect x="1332.4" y="853.5" width="12.4" height="11.6" fill="#000" stroke="#fff" stroke-width="1" paint-order="stroke"/>
<rect x="1465.7" y="853.5" width="12.4" height="11.6" fill="#000" stroke="#fff" stroke-width="1" paint-order="stroke"/>
<rect x="1599.0" y="853.5" width="12.4" height="11.6" fill="#000" stroke="#fff" stroke-width="1" paint-order="stroke"/>
<line x1="1321.3" y1="509.9" x2="1270" y2="472.3" stroke="#000" stroke-width="2.5"/>
<polygon points="1262.6,466.9 1276.6,471.6 1271.2,478.9" fill="#000"/>
<text x="1337.2" y="560.4" font-size="38" letter-spacing="0.75">LCST=33<tspan font-size="25" dy="-4" fill="#555">°</tspan><tspan dy="4">C</tspan></text>
<rect x="1477.7" y="430.7" width="161.3" height="45.3" fill="#fff" stroke="#666" stroke-width="2"/>
<line x1="1481.2" y1="459.2" x2="1500.4" y2="459.2" stroke="#000" stroke-width="2.9"/>
<line x1="1519.2" y1="459.2" x2="1541" y2="459.2" stroke="#000" stroke-width="2.9"/>
<rect x="1504.2" y="453.2" width="13" height="13" fill="#000"/>
<text x="1537.6" y="467.6" font-size="38.3">IPN-3</text>
<text x="1200.3" y="987" font-size="37.5" letter-spacing="1.1">Temperature/<tspan font-size="25" dy="-4" fill="#555">°</tspan><tspan dy="4">C</tspan></text>
<text transform="translate(926.6,713.2) rotate(-90)" font-size="37"><tspan x="-2.3" dy="-5.2" font-size="31.7">|</tspan><tspan x="9.7" dy="5.2" font-size="33">Δ</tspan><tspan x="32.8">R</tspan><tspan x="61.6">/</tspan><tspan x="71" font-size="33">Δ</tspan><tspan x="93.8">t</tspan><tspan x="108" dy="-5.2" font-size="31.7">|</tspan></text>
</g>
</svg>
</body></html>
